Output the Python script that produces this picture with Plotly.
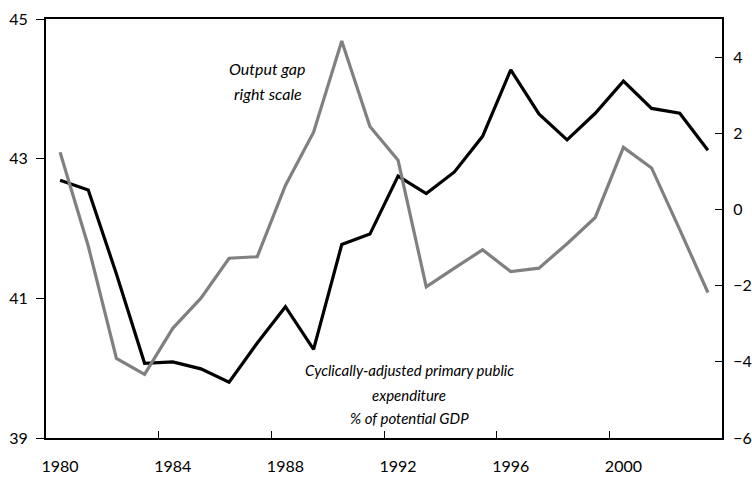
import plotly.graph_objects as go

years = [str(y) for y in range(1980, 2004)]
expenditure = [42.69, 42.55, 41.35, 40.07, 40.09, 39.99, 39.80, 40.36, 40.88, 40.27,
               41.77, 41.92, 42.75, 42.50, 42.81, 43.32, 44.27, 43.64, 43.27, 43.65,
               44.11, 43.72, 43.65, 43.12]
output_gap = [1.50, -0.96, -3.91, -4.33, -3.12, -2.33, -1.28, -1.24, 0.63, 2.03,
              4.42, 2.18, 1.29, -2.03, -1.54, -1.06, -1.63, -1.54, -0.90, -0.21,
              1.63, 1.09, -0.53, -2.18]
left_ticks = [39, 41, 43, 45]
right_ticks = [-6, -4, -2, 0, 2, 4]

font_family = "Lato, 'Open Sans', sans-serif"

fig = go.Figure()
fig.add_trace(go.Scatter(x=years, y=expenditure, mode="lines",
                         line=dict(color="#000000", width=3.2), yaxis="y"))
fig.add_trace(go.Scatter(x=years, y=output_gap, mode="lines",
                         line=dict(color="#808080", width=3.2), yaxis="y2"))

# label lines with pixel positions (centre x, centre y, size)
labels = [
    ("Output gap", 267, 68, 16),
    ("right scale", 268, 93, 16),
    ("Cyclically-adjusted primary public", 409, 370, 15),
    ("expenditure", 409, 395, 15),
    ("% of potential GDP", 409, 418, 15),
]

pw = 752 - 46 - 30
ph = 477 - 19 - 39
annotations = []
for text, px, py, size in labels:
    annotations.append(dict(
        text="<i>" + text + "</i>", xref="paper", yref="paper",
        x=(px - 46) / pw, y=1 - (py - 19) / ph,
        xanchor="center", yanchor="middle", showarrow=False,
        font=dict(size=size, family=font_family, color="#000"),
    ))

fig.update_layout(
    width=752, height=477,
    margin=dict(l=46, r=30, t=19, b=39),
    paper_bgcolor="white", plot_bgcolor="white",
    showlegend=False,
    font=dict(family=font_family, size=16, color="#000000"),
    xaxis=dict(
        type="category", tickmode="linear", dtick=4, tick0=0,
        tickson="boundaries", ticks="inside", ticklen=7, tickwidth=1.2, tickcolor="#000",
        showline=True, linecolor="#000", linewidth=2, mirror=True,
        showgrid=False, zeroline=False, ticklabelstandoff=13, tickangle=0,
        range=[-0.5, 23.5], automargin=False,
    ),
    yaxis=dict(
        range=[39, 45], tickvals=left_ticks, ticks="outside", ticklen=8,
        tickwidth=1.2, tickcolor="#000",
        showline=True, linecolor="#000", linewidth=2,
        showgrid=False, zeroline=False, ticklabelstandoff=5, automargin=False,
    ),
    yaxis2=dict(
        range=[-6, 5], tickvals=right_ticks, overlaying="y", side="right",
        ticks="inside", ticklen=7, tickwidth=1.2, tickcolor="#000",
        showline=True, linecolor="#000", linewidth=2,
        showgrid=False, zeroline=False, ticklabelstandoff=6, automargin=False,
    ),
    annotations=annotations,
)

fig.write_html("out.html", config={"displayModeBar": False},
               post_script="document.body.style.margin='0';document.body.style.overflow='hidden';")
